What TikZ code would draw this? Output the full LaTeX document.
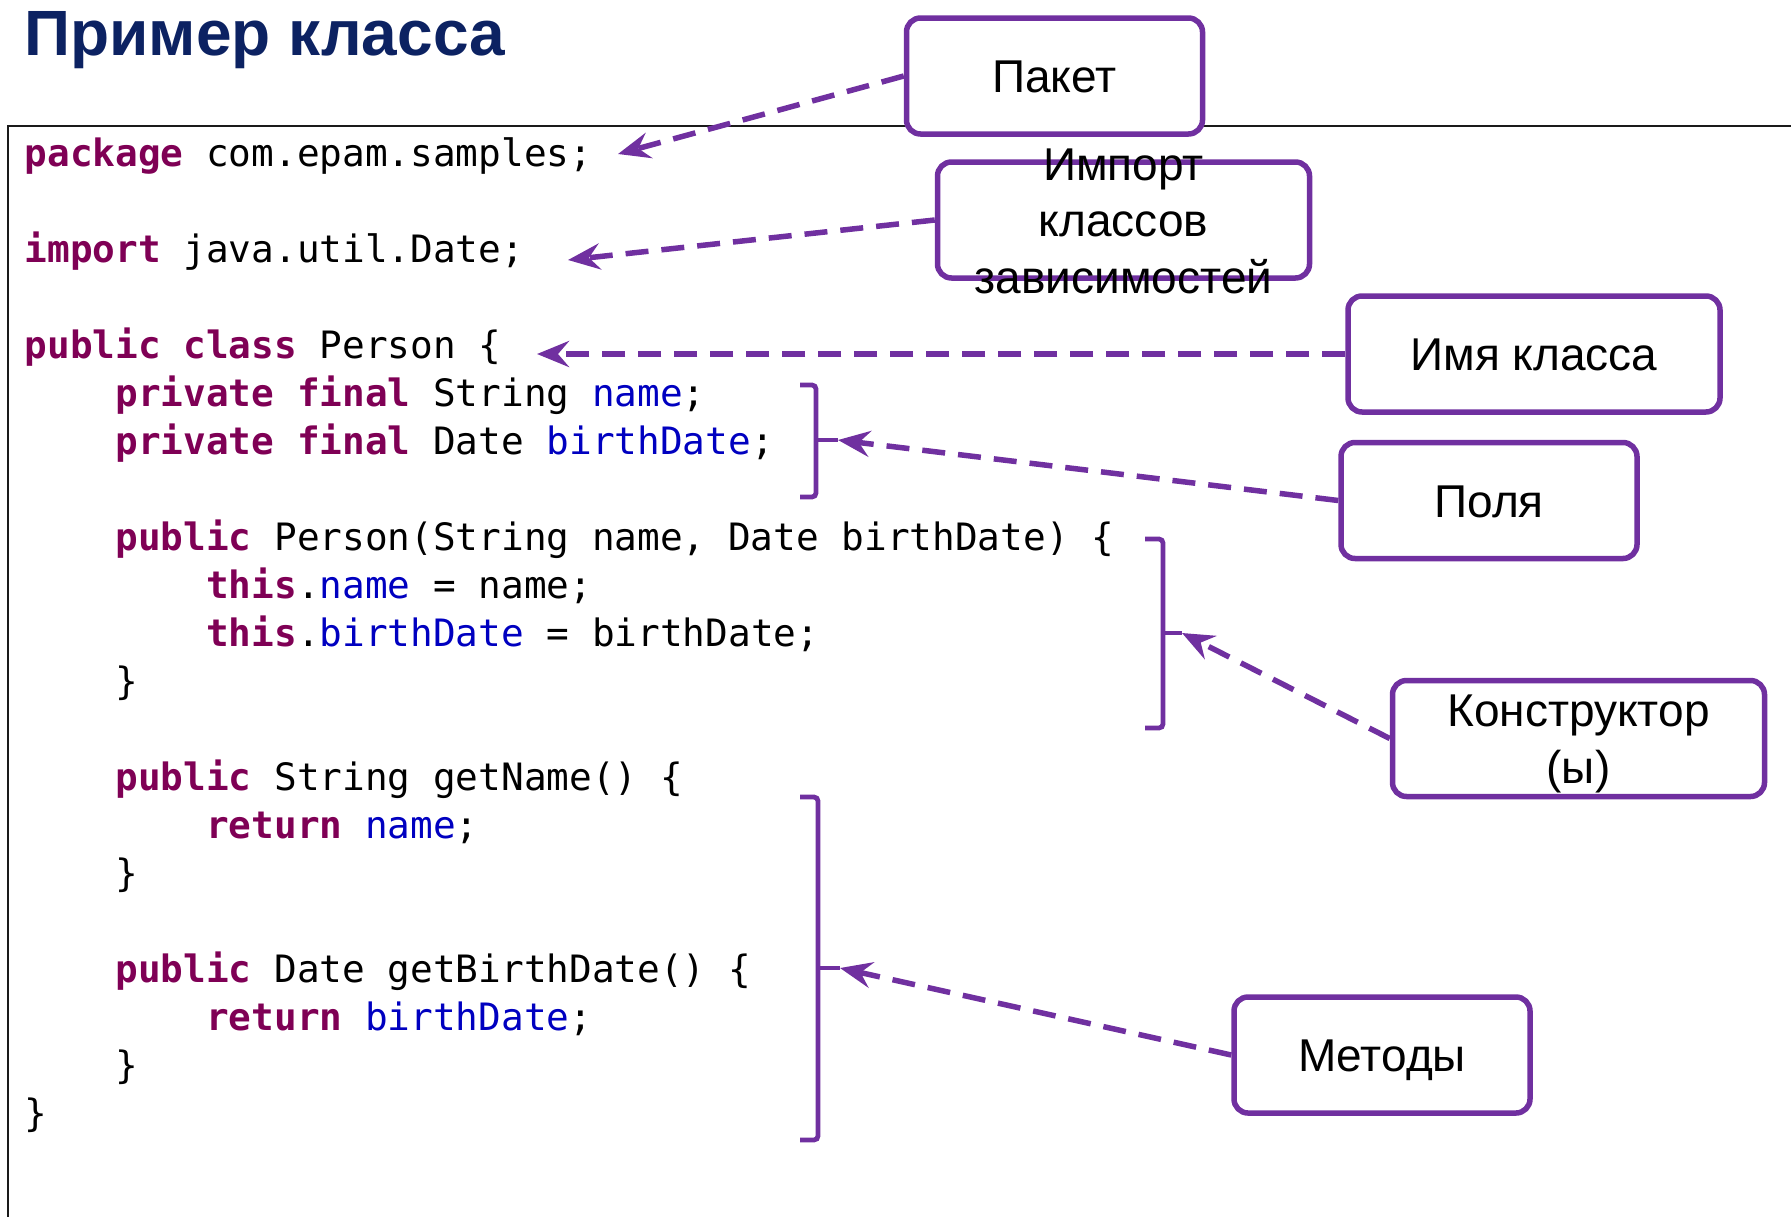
\documentclass[tikz,border=0pt]{standalone}
\usepackage{fontspec}
\setmainfont{Liberation Sans}
\newfontfamily\codefont{DejaVu Sans Mono}
\usetikzlibrary{arrows.meta}
\definecolor{callpurple}{HTML}{7030A0}
\definecolor{kwcolor}{HTML}{7F0055}
\definecolor{fieldcolor}{HTML}{0000C0}
\definecolor{titlecolor}{HTML}{0C2262}
\definecolor{framecolor}{HTML}{1A1A1A}
\newcommand{\kw}[1]{\textcolor{kwcolor}{\bfseries #1}}
\newcommand{\fld}[1]{\textcolor{fieldcolor}{#1}}
\tikzset{
  callout/.style={draw=callpurple, line width=5.5pt, fill=white, rounded corners=14pt,
    minimum height=116pt, inner sep=0pt, font=\fontsize{46}{56.5}\selectfont,
    text height=33pt, text depth=0pt},
  narrowbox/.style={callout, minimum width=296pt},
  widebox/.style={callout, minimum width=372pt},
  lbl/.style={font=\fontsize{46}{56.5}\selectfont, inner sep=0pt, anchor=base, align=center},
  codeline/.style={font=\codefont\fontsize{37.7}{45}\selectfont\frenchspacing, inner sep=0pt, anchor=base west},
  pointer/.style={draw=callpurple, line width=5.5pt, dash pattern=on 23pt off 13pt,
    -{Stealth[length=32pt,width=26pt,inset=11pt]}},
  bracket/.style={draw=callpurple, line width=4.8pt, rounded corners=4pt},
  titletext/.style={font=\fontsize{64}{77}\selectfont\bfseries, text=titlecolor, inner sep=0pt, anchor=base west},
}
\begin{document}
\begin{tikzpicture}[x=1pt, y=-1pt]
\useasboundingbox (0,0) rectangle (1791,1216);
% title
\node[titletext] (title) at (24,55) {Пример класса};
% code frame (only top and left edges are visible)
\draw[framecolor, line width=2.3pt] (8,1230) -- (8,126) -- (1800,126);
% code lines
\node[codeline] (l0)  at (24.5,166)  {\kw{package} com.epam.samples;};
\node[codeline] (l2)  at (24.5,262)  {\kw{import} java.util.Date;};
\node[codeline] (l4)  at (24.5,358)  {\kw{public class} Person \{};
\node[codeline] (l5)  at (115.3,406) {\kw{private final} String \fld{name};};
\node[codeline] (l6)  at (115.3,454) {\kw{private final} Date \fld{birthDate};};
\node[codeline] (l8)  at (115.3,550) {\kw{public} Person(String name, Date birthDate) \{};
\node[codeline] (l9)  at (206.1,598) {\kw{this}.\fld{name} = name;};
\node[codeline] (l10) at (206.1,646) {\kw{this}.\fld{birthDate} = birthDate;};
\node[codeline] (l11) at (115.3,694) {\}};
\node[codeline] (l13) at (115.3,790) {\kw{public} String getName() \{};
\node[codeline] (l14) at (206.1,838) {\kw{return} \fld{name};};
\node[codeline] (l15) at (115.3,886) {\}};
\node[codeline] (l17) at (115.3,982) {\kw{public} Date getBirthDate() \{};
\node[codeline] (l18) at (206.1,1030) {\kw{return} \fld{birthDate};};
\node[codeline] (l19) at (115.3,1078) {\}};
\node[codeline] (l20) at (24.5,1126) {\}};
% brackets
\coordinate (fldtip) at (838,440);
\coordinate (ctortip) at (1182,633);
\coordinate (methtip) at (840,968);
\draw[bracket] (800,385) -- (816,385) -- (816,497) -- (800,497);
\draw[bracket] (816,440) -- (fldtip);
\draw[bracket] (1145,539) -- (1163,539) -- (1163,728) -- (1145,728);
\draw[bracket] (1163,633) -- (ctortip);
\draw[bracket] (800,797) -- (818,797) -- (818,1140) -- (800,1140);
\draw[bracket] (818,968) -- (methtip);
% arrow targets in code
\coordinate (pkgtip) at (618,154);
\coordinate (imptip) at (568,260);
\coordinate (clstip) at (537,354);
% callout boxes
\node[narrowbox] (pak)  at (1054.5,76)  {Пакет};
\node[widebox]   (imp)  at (1123.5,220) {};
\node[widebox]   (cls)  at (1534,354)   {Имя класса};
\node[narrowbox] (fld)  at (1489,500.5) {Поля};
\node[widebox]   (ctor) at (1578.5,738.5) {};
\node[narrowbox] (meth) at (1382,1055)  {Методы};
\node[lbl] (impt)  at (1123.5,293) {Импорт\\классов\\зависимостей};
\node[lbl] (ctort) at (1578.5,783) {Конструктор\\(ы)};
% pointers
\draw[pointer] (pak.west) -- (pkgtip);
\draw[pointer] (imp.west) -- (imptip);
\draw[pointer] (cls.west) -- (clstip);
\draw[pointer] (fld.west) -- (fldtip);
\draw[pointer] (ctor.west) -- (ctortip);
\draw[pointer] (meth.west) -- (methtip);
\end{tikzpicture}
\end{document}
